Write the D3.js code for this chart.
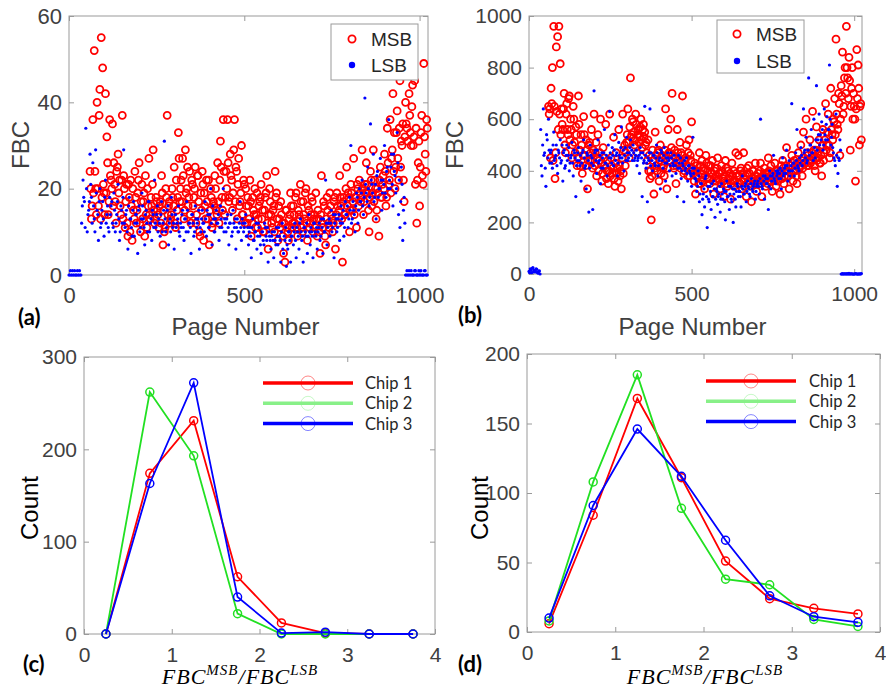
<!DOCTYPE html>
<html><head><meta charset="utf-8">
<script src="https://cdn.jsdelivr.net/npm/d3@7"></script>
<style>body{margin:0;background:#fff}svg{display:block}</style>
</head><body>
<svg id="c" width="886" height="692"></svg>
<script>
// ---------- DATA ----------
const pages = d3.range(0, 1024, 4);   // page index of first sample set
const pages2 = d3.range(2, 1024, 4);  // page index of second sample set
const N = null;
const msbA = [
N,N,N,N,N,N,N,N,N,N,N,N,N,N,N,24,
13,36,52,20,40,16,43,55,48,19,42,32,14,36,22,35,
26,17,24,28,22,14,37,23,11,21,9,18,22,8,15,24,
12,19,26,10,21,17,9,14,20,27,13,16,29,12,18,15,
11,17,23,7,10,20,37,16,12,14,18,25,11,15,33,17,
22,27,13,29,20,16,24,12,21,18,25,14,23,10,19,24,
8,16,22,13,7,20,11,17,23,15,26,12,31,18,36,14,
24,36,17,28,22,19,36,25,13,27,17,30,14,21,20,12,
16,22,9,18,14,11,19,13,17,21,15,10,18,23,6,20,
14,11,16,24,19,8,13,17,12,5,3,15,10,13,19,11,
16,12,19,9,14,21,11,17,13,20,8,15,12,18,10,14,
19,9,13,5,23,11,16,7,18,12,19,14,10,17,6,19,
12,23,16,3,18,14,25,19,10,21,15,27,18,11,20,22,
17,29,14,21,26,19,10,24,16,29,22,13,20,9,25,18,
23,28,16,34,21,36,27,42,33,25,38,22,45,31,35,17,
40,34,47,37,30,44,32,21,12,26,16,33,23,49,28,36];
const msbA2 = [
N,N,N,N,N,N,N,N,N,N,N,N,N,N,N,20,
16,19,24,14,20,37,13,18,21,14,19,26,17,23,20,16,
21,12,25,19,16,22,13,20,17,12,21,10,16,20,13,18,
15,22,12,17,13,19,23,11,16,14,18,21,15,13,17,14,
16,12,19,15,11,18,14,17,13,20,16,12,22,18,27,20,
17,23,15,19,25,18,14,22,16,20,12,23,17,9,15,21,
19,13,17,22,15,18,12,16,20,14,17,22,25,15,24,18,
20,26,18,23,15,29,17,24,21,16,19,14,22,12,16,18,
13,17,12,15,20,14,11,16,18,13,10,15,19,12,14,17,
12,15,10,18,13,16,11,14,9,12,15,11,8,14,16,12,
14,18,11,15,13,17,10,14,19,12,16,11,14,17,13,11,
13,15,10,14,12,17,9,13,15,11,16,13,12,18,14,16,
15,18,13,17,14,20,16,18,15,19,17,14,18,21,16,19,
18,20,17,19,21,15,18,22,19,17,20,15,19,22,18,21,
20,24,18,26,22,19,29,24,20,33,27,34,25,30,22,32,
35,31,42,33,39,30,45,34,22,31,25,37,21,32,24,34];
const lsbA = [
0,1,0,0,1,0,1,0,0,12,22,17,34,10,15,28,
18,26,13,29,15,8,20,12,17,9,22,14,11,18,16,12,
19,10,14,21,8,16,12,29,11,15,6,18,13,9,17,12,
14,5,16,11,19,13,7,15,10,17,12,8,14,22,11,16,
13,9,17,12,31,10,15,7,13,18,11,6,14,12,16,9,
11,15,8,13,17,10,12,5,14,9,16,11,13,6,10,15,
12,17,9,14,11,20,7,13,10,15,12,8,16,11,20,13,
10,14,7,12,9,15,11,6,13,10,17,8,12,11,14,9,
7,11,4,13,8,10,6,12,9,5,10,7,11,8,3,9,
6,10,4,8,11,7,9,3,12,5,8,2,6,10,3,9,
7,12,4,10,6,13,8,3,11,9,5,14,7,10,4,12,
9,6,11,8,13,5,10,22,7,12,9,15,11,4,14,10,
13,8,16,12,9,17,14,11,18,30,13,15,10,19,12,20,
17,22,14,41,19,25,16,35,21,28,18,13,24,20,27,15,
22,30,18,25,36,20,28,16,24,19,33,14,11,25,8,18,
0,1,0,0,1,0,0,1,0,0,0,1,0,0,1,0];
const lsbA2 = [
0,0,1,0,0,0,0,1,0,16,18,11,20,14,17,21,
12,16,10,19,14,17,11,15,13,18,12,16,10,14,17,11,
15,12,17,13,10,15,18,12,14,10,16,13,11,15,9,14,
12,15,10,13,16,11,14,12,17,10,13,15,11,12,14,10,
12,14,10,15,13,11,16,12,10,14,12,15,11,13,10,12,
14,11,13,10,15,12,11,14,12,10,13,12,15,11,13,12,
10,13,15,11,14,12,16,10,13,12,14,11,13,15,10,12,
13,11,12,14,10,12,13,11,10,12,11,13,10,12,9,11,
10,9,11,8,10,12,9,11,7,10,8,12,9,11,10,8,
9,8,10,7,9,11,8,10,6,9,11,7,10,8,9,11,
10,8,11,9,12,10,9,11,10,12,9,10,11,9,12,10,
11,10,12,9,11,13,10,12,11,13,12,10,14,12,13,11,
14,12,13,15,11,14,16,13,15,12,17,14,16,18,15,17,
19,16,18,21,17,20,18,22,19,17,21,23,18,20,22,19,
21,19,24,20,22,25,21,28,23,20,26,22,17,21,15,12,
0,0,1,0,0,0,1,0,0,1,0,0,0,1,0,0];
const msbB = [
N,N,N,N,N,N,N,N,N,N,N,N,N,N,N,650,
640,720,800,960,370,880,920,960,815,640,560,700,470,660,540,690,
600,450,650,510,570,420,690,480,540,390,610,460,520,330,500,440,
560,410,620,470,380,540,440,600,360,490,420,580,400,350,620,450,
390,530,340,470,410,560,380,330,620,480,420,510,640,450,760,540,
590,500,620,470,560,530,600,490,580,550,510,440,400,370,210,480,
310,550,420,470,360,500,450,410,380,640,330,560,470,600,700,420,
480,350,560,430,510,470,690,390,440,500,380,520,460,590,400,360,
310,420,380,470,350,440,400,330,460,370,420,350,390,440,310,410,
360,450,390,330,420,370,300,440,350,400,380,290,430,360,340,470,
380,460,350,410,330,470,370,300,390,420,350,280,400,360,430,320,
390,350,430,300,370,410,340,390,450,360,420,320,380,430,340,400,
370,310,420,440,350,400,490,380,330,420,460,360,440,400,350,470,
410,500,380,550,430,600,470,420,520,440,630,480,400,570,450,520,
430,380,560,470,660,500,620,450,720,540,600,680,910,580,700,460,
730,860,650,800,960,760,840,480,720,600,650,360,870,810,500,660];
const msbB2 = [
N,N,N,N,N,N,N,N,N,N,N,N,N,N,N,620,
450,660,440,650,470,630,560,620,540,580,640,500,620,560,680,520,
560,500,600,470,540,450,580,420,500,460,540,420,480,440,510,470,
440,480,420,510,450,400,470,430,390,450,410,370,440,400,380,420,
410,370,430,390,360,420,400,450,390,500,470,540,510,570,530,600,
550,520,580,540,510,570,520,560,530,500,470,520,460,400,380,440,
410,460,400,480,440,390,460,420,480,450,410,470,440,490,460,410,
450,420,470,440,410,460,430,400,450,420,470,380,440,410,390,430,
380,400,350,420,390,360,410,380,430,400,370,420,390,360,400,380,
410,370,390,350,400,360,380,410,340,370,390,350,380,400,360,390,
350,380,400,360,390,340,380,410,360,390,340,370,400,350,380,360,
370,400,350,380,360,390,370,350,400,380,360,390,370,400,380,360,
390,400,370,410,380,420,400,380,420,390,430,400,420,380,430,410,
420,440,410,450,430,420,460,440,430,470,450,420,480,440,470,430,
460,500,440,520,480,550,500,470,560,520,590,540,620,560,660,600,
690,620,760,700,800,680,750,650,800,700,600,640,680,720,650,520];
const lsbB = [
10,20,5,25,15,8,18,3,12,560,380,640,470,340,520,600,
430,480,410,550,450,500,390,470,520,440,360,480,420,500,460,400,
450,510,380,470,300,440,490,420,360,470,520,410,330,460,240,500,
430,250,710,480,390,520,440,350,470,410,560,430,380,500,630,450,
490,420,540,460,380,510,450,570,430,400,490,530,440,470,520,480,
500,440,460,420,450,390,470,300,430,650,410,280,440,640,470,400,
460,420,500,380,440,330,470,410,490,360,430,450,400,470,380,420,
440,390,300,460,410,370,430,280,400,450,360,420,390,340,530,410,
370,320,400,280,350,230,310,260,380,180,290,340,250,300,360,220,
330,270,310,240,350,290,320,210,360,300,250,340,280,200,330,260,
350,300,320,260,380,310,340,280,360,330,300,370,320,350,290,340,
360,310,600,340,380,290,370,350,250,400,330,380,460,360,400,390,
370,410,330,450,390,420,480,360,440,400,660,430,380,470,560,410,
450,490,420,640,480,530,440,760,500,560,470,600,450,730,520,620,
540,590,480,640,520,610,560,810,500,580,470,440,620,340,450,520,
0,2,0,1,0,0,3,0,1,0,0,2,0,0,1,0];
const lsbB2 = [
5,15,22,8,12,20,6,10,0,420,500,460,410,540,450,480,
470,430,500,440,460,420,480,450,430,500,470,410,460,440,490,430,
460,430,480,450,420,470,440,460,430,480,450,420,470,440,410,460,
450,420,470,440,480,430,460,410,450,470,430,460,420,450,470,430,
460,480,440,470,430,460,490,450,480,460,440,470,450,490,460,440,
470,450,480,440,460,490,450,470,440,460,430,450,470,420,440,460,
430,450,470,420,450,480,440,460,430,450,470,440,420,450,430,460,
420,440,410,430,450,400,420,440,410,390,420,400,380,410,390,370,
360,340,380,310,350,290,330,370,300,340,280,320,350,300,330,290,
320,300,340,290,310,330,280,320,300,340,310,290,330,310,290,320,
340,320,300,340,330,310,350,320,340,310,350,330,340,360,320,350,
340,370,350,330,360,380,350,370,340,380,360,390,370,350,380,400,
390,370,400,380,410,390,420,400,380,420,400,430,410,440,420,400,
430,460,440,470,450,430,480,460,500,470,440,490,520,480,540,500,
520,560,500,540,580,520,560,600,530,490,450,420,460,390,440,480,
0,0,1,0,2,0,0,1,0,0,0,1,0,0,0,2];

const ratioBins = [0.25, 0.75, 1.25, 1.75, 2.25, 2.75, 3.25, 3.75];
const chipNames = ["Chip 1", "Chip 2", "Chip 3"];
const chipC = [
  [0, 174, 231, 62, 12, 1, 0, 0],
  [0, 262, 193, 22, 0, 0, 0, 0],
  [0, 163, 272, 40, 1, 2, 0, 0]];
const chipD = [
  [6, 84, 168, 111, 51, 24, 17, 13],
  [8, 108, 185, 89, 38, 34, 9, 4],
  [10, 91, 146, 112, 66, 26, 11, 7]];
const xTicksPage = [0, 500, 1000];
const yTicksA = [0, 20, 40, 60];
const yTicksB = [0, 200, 400, 600, 800, 1000];
const xTicksRatio = [0, 1, 2, 3, 4];
const yTicksC = [0, 100, 200, 300];
const yTicksD = [0, 50, 100, 150, 200];

// ---------- DRAW ----------
const svg = d3.select("#c");
const AX = "#9a9a9a", TXT = "#404040";
const SANS = "'Liberation Sans', Arial, sans-serif";
const chipCol = ["#ff0000", "#22e022", "#0000ff"];
const chipLeg = ["#ff0000", "#88f088", "#0000ff"];
const fmt = d => String(d);

function frame(x, y, xt, yt, fs, padX) {
  const [x0, x1] = x.range(), [y0, y1] = y.range();
  const g = svg.append("g");
  g.append("rect").attr("x", x0).attr("y", y1).attr("width", x1 - x0).attr("height", y0 - y1)
    .attr("fill", "none").attr("stroke", AX).attr("stroke-width", 1);
  const style = sel => {
    sel.select(".domain").remove();
    sel.selectAll(".tick line").attr("stroke", AX);
    sel.selectAll(".tick text").attr("fill", TXT).style("font-family", SANS).style("font-size", fs + "px");
  };
  g.append("g").attr("transform", `translate(0,${y0})`)
    .call(d3.axisBottom(x).tickValues(xt).tickFormat(fmt).tickSize(-5).tickPadding(padX)).call(style);
  g.append("g").attr("transform", `translate(0,${y1})`)
    .call(d3.axisTop(x).tickValues(xt).tickSize(-5).tickFormat("")).call(style);
  g.append("g").attr("transform", `translate(${x0},0)`)
    .call(d3.axisLeft(y).tickValues(yt).tickFormat(fmt).tickSize(-5).tickPadding(7)).call(style);
  g.append("g").attr("transform", `translate(${x1},0)`)
    .call(d3.axisRight(y).tickValues(yt).tickSize(-5).tickFormat("")).call(style);
}

function ylabel(txt, x, y, col) {
  svg.append("text").attr("transform", `translate(${x},${y}) rotate(-90)`)
    .attr("text-anchor", "middle").attr("fill", col)
    .style("font-family", SANS).style("font-size", "24px").text(txt);
}
function panelTag(txt, x, y) {
  svg.append("text").attr("x", x).attr("y", y).attr("fill", "#000")
    .style("font-family", "Lato, 'Open Sans', sans-serif").style("font-weight", "bold")
    .style("font-size", "22px").text(txt);
}

function scatter(xr, yr, ymax, msbSets, lsbSets, yt, fs, leg, tag, ylx) {
  const x = d3.scaleLinear().domain([0, 1024]).range(xr);
  const y = d3.scaleLinear().domain([0, ymax]).range(yr);
  frame(x, y, xTicksPage, yt, fs, 12);
  const g = svg.append("g");
  const pts = (sets) => sets.flatMap(([pg, vals]) => pg.map((p, i) => [p, vals[i]])).filter(d => d[1] !== null);
  g.append("g").selectAll("circle").data(pts(msbSets))
    .join("circle").attr("cx", d => x(d[0])).attr("cy", d => y(d[1])).attr("r", 3.5)
    .attr("fill", "none").attr("stroke", "#ff0000").attr("stroke-width", 1.8);
  g.append("g").selectAll("circle").data(pts(lsbSets))
    .join("circle").attr("cx", d => x(d[0])).attr("cy", d => y(d[1])).attr("r", 1.6)
    .attr("fill", "#0000ff");
  // legend
  const lg = svg.append("g");
  lg.append("rect").attr("x", leg.x).attr("y", leg.y).attr("width", leg.w).attr("height", leg.h)
    .attr("fill", "#fff").attr("stroke", AX);
  lg.append("circle").attr("cx", leg.mx).attr("cy", leg.r1).attr("r", 3.6)
    .attr("fill", "none").attr("stroke", "#ff0000").attr("stroke-width", 1.8);
  lg.append("circle").attr("cx", leg.mx).attr("cy", leg.r2).attr("r", 3.2).attr("fill", "#0000ff");
  [["MSB", leg.r1], ["LSB", leg.r2]].forEach(([t, yy]) =>
    lg.append("text").attr("x", leg.tx).attr("y", yy).attr("dy", "0.36em").attr("fill", "#262626")
      .style("font-family", SANS).style("font-size", "19px").text(t));
  // labels
  const cx = (xr[0] + xr[1]) / 2;
  svg.append("text").attr("x", cx - 3).attr("y", 335).attr("text-anchor", "middle").attr("fill", TXT)
    .style("font-family", SANS).style("font-size", "24px").text("Page Number");
  ylabel("FBC", ylx, 145, TXT);
  panelTag(tag[0], tag[1], tag[2]);
}

function ratioLabel(cx, by) {
  const t = svg.append("text").attr("x", cx).attr("y", by).attr("text-anchor", "middle")
    .attr("fill", "#000").style("font-family", "'Liberation Serif', 'DejaVu Serif', serif")
    .style("font-style", "italic").style("font-size", "22px").style("letter-spacing", "1px");
  t.append("tspan").text("FBC");
  t.append("tspan").attr("dy", -9).style("font-size", "15px").text("MSB");
  t.append("tspan").attr("dy", 9).text("/FBC");
  t.append("tspan").attr("dy", -9).style("font-size", "15px").text("LSB");
}

function lines(xr, yr, ymax, yt, data, leg, tag, ylx, labCx) {
  const x = d3.scaleLinear().domain([0, 4]).range(xr);
  const y = d3.scaleLinear().domain([0, ymax]).range(yr);
  frame(x, y, xTicksRatio, yt, 21, 13);
  const line = d3.line().x((d, i) => x(ratioBins[i])).y(d => y(d));
  data.forEach((s, k) => {
    const g = svg.append("g");
    g.append("path").attr("d", line(s)).attr("fill", "none").attr("stroke", chipCol[k]).attr("stroke-width", 1.8);
    g.selectAll("circle").data(s).join("circle").attr("cx", (d, i) => x(ratioBins[i])).attr("cy", d => y(d))
      .attr("r", 4).attr("fill", "none").attr("stroke", chipCol[k]).attr("stroke-width", 1.5);
  });
  // legend
  chipNames.forEach((nm, k) => {
    const yy = leg.y + k * 20.3;
    svg.append("line").attr("x1", leg.x1).attr("x2", leg.x2).attr("y1", yy).attr("y2", yy)
      .attr("stroke", chipLeg[k]).attr("stroke-width", 3.5);
    svg.append("circle").attr("cx", (leg.x1 + leg.x2) / 2).attr("cy", yy).attr("r", 7)
      .attr("fill", "none").attr("stroke", chipLeg[k]).attr("stroke-width", 0.8).attr("opacity", 0.6);
    svg.append("text").attr("x", leg.tx).attr("y", yy).attr("dy", "0.36em").attr("fill", "#262626")
      .style("font-family", "Lato, 'Open Sans', sans-serif").style("font-size", "16.5px").text(nm);
  });
  ratioLabel(labCx, 684);
  ylabel("Count", ylx, 508, "#000");
  panelTag(tag[0], tag[1], tag[2]);
}

scatter([69, 428], [275, 16], 60, [[pages, msbA], [pages2, msbA2]], [[pages, lsbA], [pages2, lsbA2]], yTicksA, 22,
  {x: 331, y: 24, w: 87, h: 56, mx: 352, tx: 371, r1: 39, r2: 65}, ["(a)", 18, 325], 29);
scatter([529, 862], [274, 16], 1000, [[pages, msbB], [pages2, msbB2]], [[pages, lsbB], [pages2, lsbB2]], yTicksB, 21,
  {x: 717, y: 20, w: 87, h: 53, mx: 737, tx: 756, r1: 34, r2: 61}, ["(b)", 458, 323], 463);
lines([84, 435], [634, 357], 300, yTicksC, chipC,
  {x1: 263, x2: 353, tx: 365, y: 383}, ["(c)", 23, 672], 38, 240);
lines([527, 880], [632, 354], 200, yTicksD, chipD,
  {x1: 706, x2: 796, tx: 809, y: 381}, ["(d)", 458, 672], 488, 705);
</script>
</body></html>
